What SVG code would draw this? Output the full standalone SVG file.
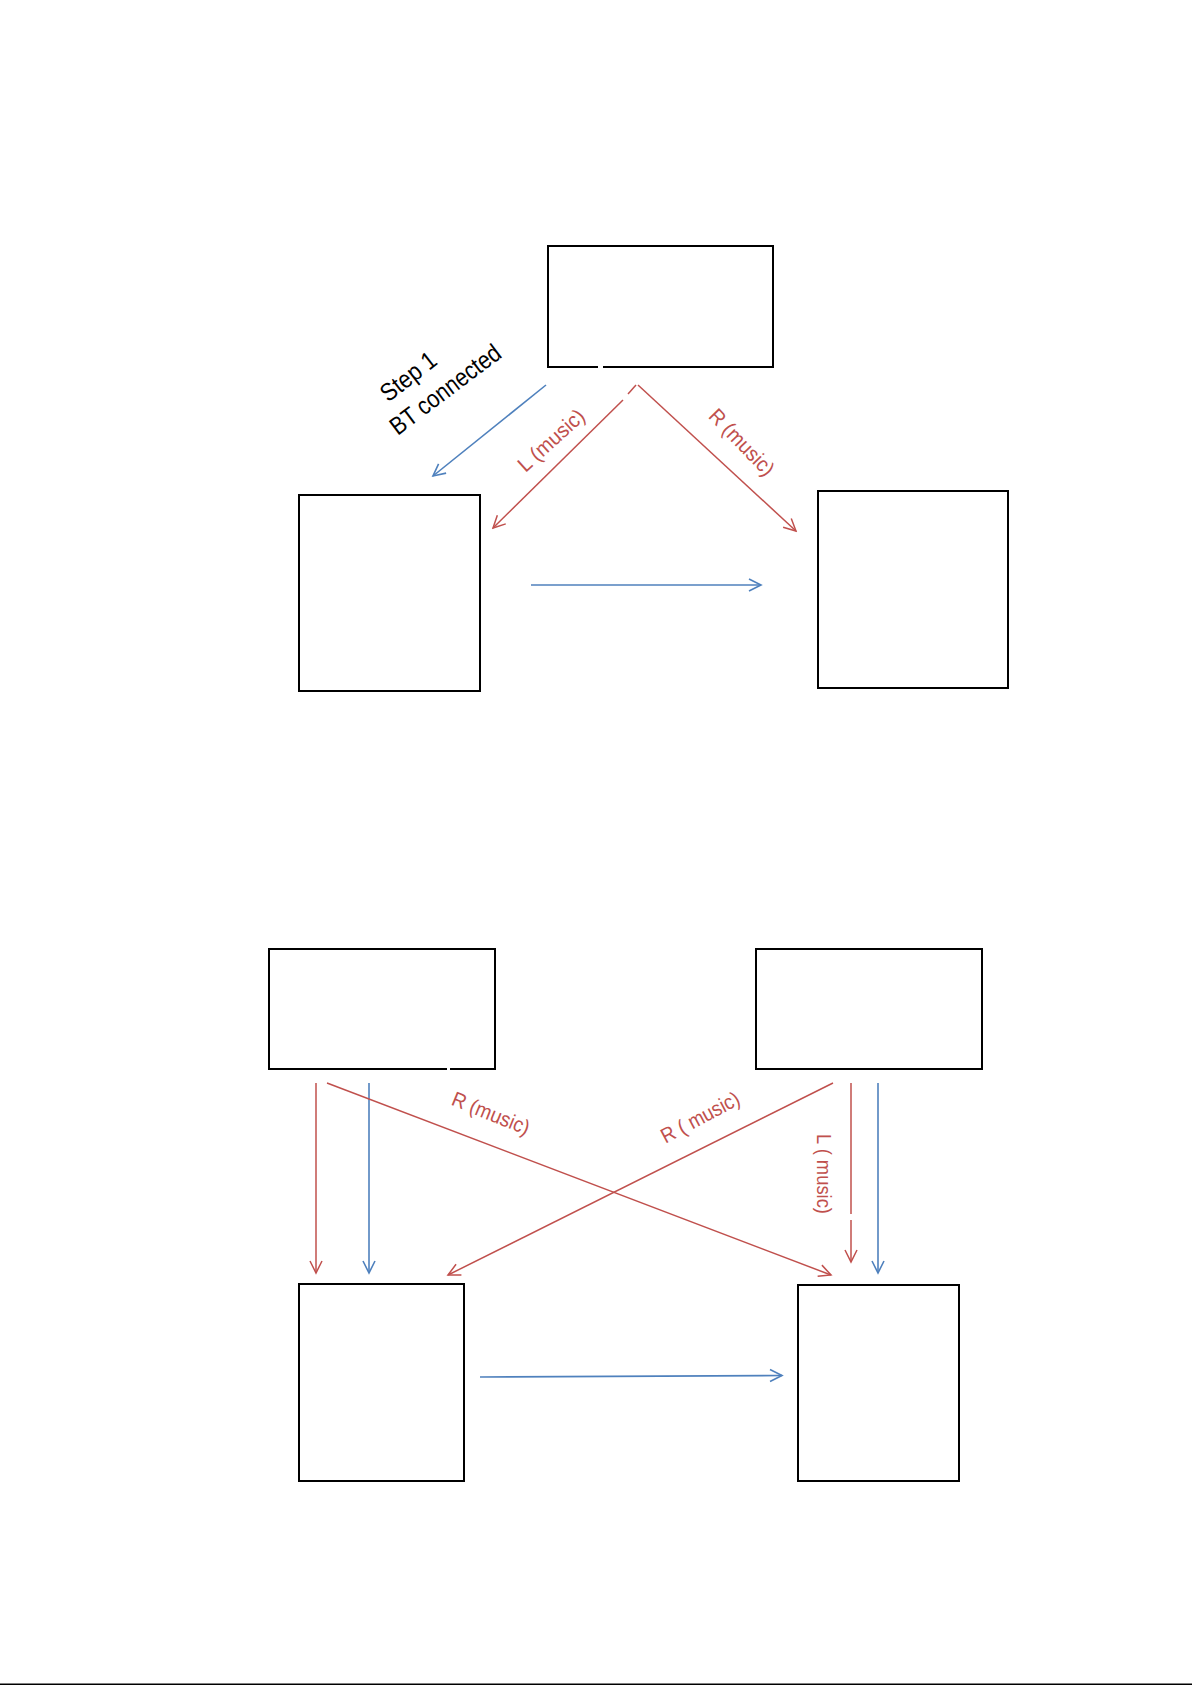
<svg xmlns="http://www.w3.org/2000/svg" width="1192" height="1685" viewBox="0 0 1192 1685">
<defs>
<style>
.box{fill:#fff;stroke:#000;stroke-width:2}
.edge{fill:none;stroke:#000;stroke-width:2}
.r{stroke:#C0504D;stroke-width:1.5;fill:none}
.b{stroke:#4F81BD;stroke-width:1.6;fill:none}
.ra{marker-end:url(#ahR)}
.ba{marker-end:url(#ahB)}
.lbl{font-family:"Liberation Sans",Arial,sans-serif;font-size:21px;fill:#C0504D;text-anchor:middle;dominant-baseline:central}
.step{font-family:"Liberation Sans",Arial,sans-serif;font-size:25px;fill:#000;text-anchor:middle;dominant-baseline:central}
</style>
<marker id="ahR" viewBox="0 0 16 16" refX="14" refY="8" markerWidth="16" markerHeight="16" markerUnits="userSpaceOnUse" orient="auto">
<path d="M2,2 L14,8 L2,14" fill="none" stroke="#C0504D" stroke-width="1.5"/>
</marker>
<marker id="ahB" viewBox="0 0 16 16" refX="14" refY="8" markerWidth="16" markerHeight="16" markerUnits="userSpaceOnUse" orient="auto">
<path d="M2,2 L14,8 L2,14" fill="none" stroke="#4F81BD" stroke-width="1.6"/>
</marker>
</defs>
<rect x="0" y="0" width="1192" height="1685" fill="#fff"/>

<g id="node-top">
<path class="edge" d="M598,367 L548,367 L548,246 L773,246 L773,367 L603,367"/>
</g>
<g id="node-left">
<rect class="box" x="299" y="495" width="181" height="196"/>
</g>
<g id="node-right">
<rect class="box" x="818" y="491" width="190" height="197"/>
</g>
<g id="node-bottom-top-left">
<path class="edge" d="M447,1069 L269,1069 L269,949 L495,949 L495,1069 L450,1069"/>
</g>
<g id="node-bottom-top-right">
<rect class="box" x="756" y="949" width="226" height="120"/>
</g>
<g id="node-bottom-left">
<rect class="box" x="299" y="1284" width="165" height="197"/>
</g>
<g id="node-bottom-right">
<rect class="box" x="798" y="1285" width="161" height="196"/>
</g>

<g id="connectors">
<line class="b ba" x1="546" y1="385" x2="433" y2="476"/>
<line class="r" x1="636" y1="385" x2="628" y2="394"/>
<line class="r ra" x1="623" y1="400" x2="493" y2="528"/>
<line class="r ra" x1="638" y1="385" x2="796" y2="531"/>
<line class="b ba" x1="531" y1="585" x2="761" y2="585"/>

<line class="r ra" x1="316" y1="1083" x2="316" y2="1273"/>
<line class="b ba" x1="369" y1="1083" x2="369" y2="1273"/>
<line class="r ra" x1="327" y1="1083" x2="831" y2="1275"/>
<line class="r ra" x1="833" y1="1083" x2="448" y2="1275"/>
<line class="r" x1="851" y1="1083" x2="851" y2="1214"/>
<line class="r ra" x1="851" y1="1220" x2="851" y2="1262"/>
<line class="b ba" x1="878" y1="1083" x2="878" y2="1273"/>
<line class="b ba" x1="480" y1="1377" x2="782" y2="1375.5"/>
</g>

<g id="labels">
<text class="step" transform="translate(408,376) rotate(-38)" textLength="64" lengthAdjust="spacingAndGlyphs">Step 1</text>
<text class="step" transform="translate(445,389) rotate(-37)" textLength="132" lengthAdjust="spacingAndGlyphs">BT connected</text>
<text class="lbl" transform="translate(551,440) rotate(-42)" textLength="82" lengthAdjust="spacingAndGlyphs">L (music)</text>
<text class="lbl" transform="translate(742,442) rotate(46)" textLength="84" lengthAdjust="spacingAndGlyphs">R (music)</text>
<text class="lbl" transform="translate(491,1113) rotate(22)" textLength="82" lengthAdjust="spacingAndGlyphs">R (music)</text>
<text class="lbl" transform="translate(700,1117) rotate(-28)" textLength="86" lengthAdjust="spacingAndGlyphs">R ( music)</text>
<text class="lbl" transform="translate(824,1174) rotate(90)" textLength="80" lengthAdjust="spacingAndGlyphs">L ( music)</text>
</g>
<line x1="0" y1="1684.2" x2="1192" y2="1684.2" stroke="#000" stroke-width="1.5"/>
</svg>
